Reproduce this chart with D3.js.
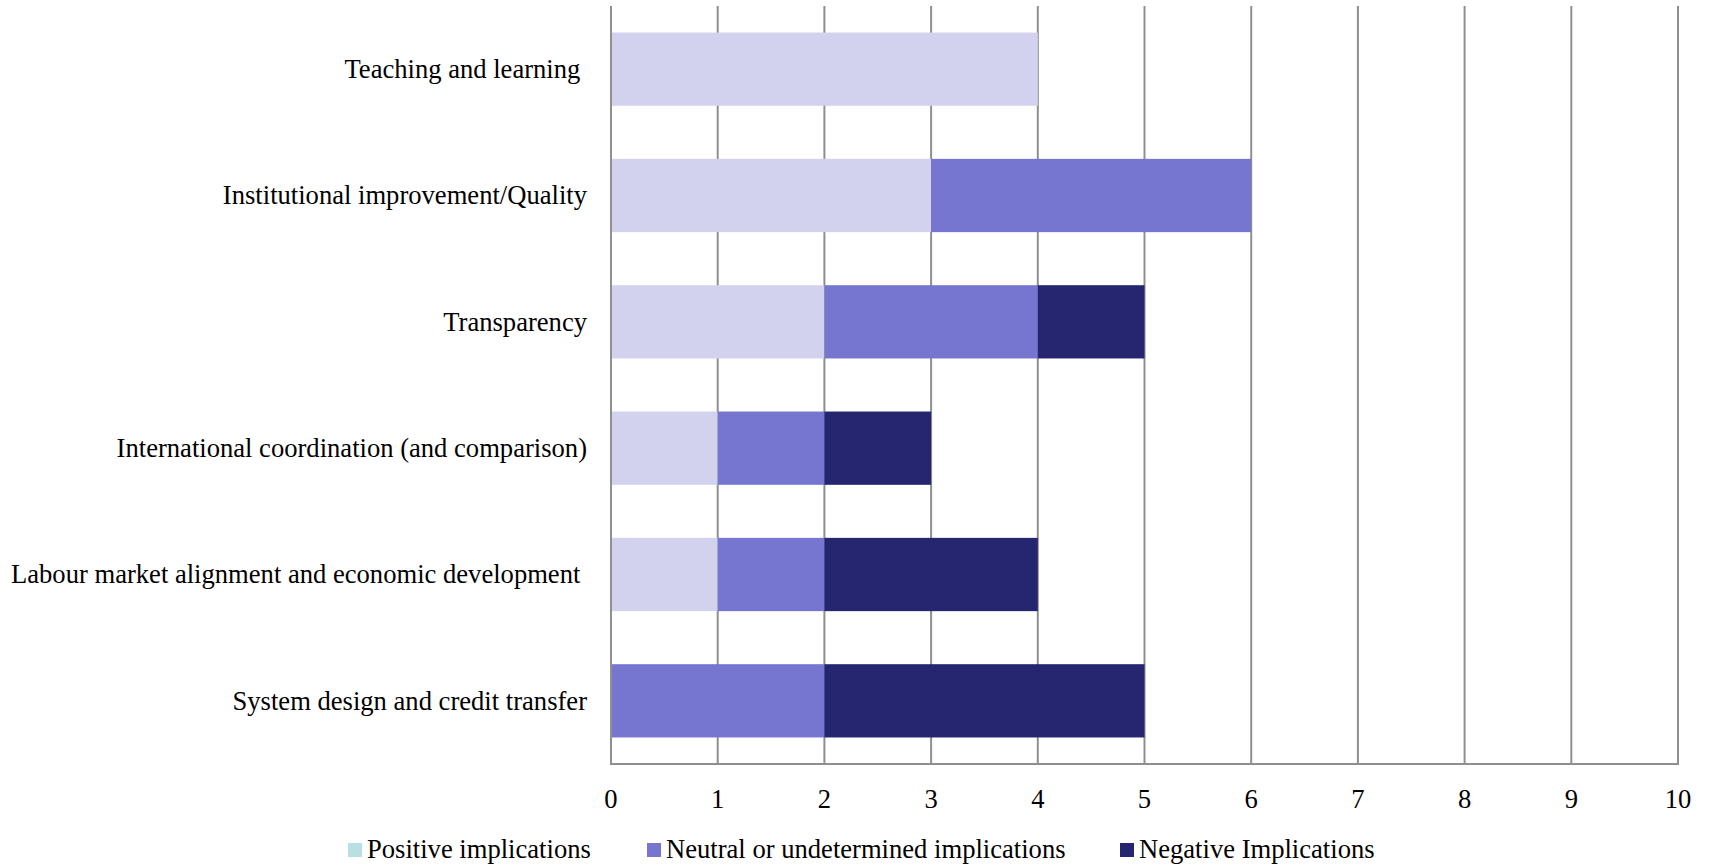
<!DOCTYPE html>
<html>
<head>
<meta charset="utf-8">
<script src="https://cdn.jsdelivr.net/npm/d3@7"></script>
<style>
  html, body { margin: 0; padding: 0; background: #fff; }
  svg text { font-family: "Liberation Serif", "Times New Roman", serif; fill: #000; white-space: pre; }
</style>
</head>
<body>
<svg id="chart" width="1709" height="866"></svg>
<script>
// Categories, top to bottom
const categories = [
  "Teaching and learning ",
  "Institutional improvement/Quality",
  "Transparency",
  "International coordination (and comparison)",
  "Labour market alignment and economic development ",
  "System design and credit transfer"
];
// Series values, one per category
const positive = [4, 3, 2, 1, 1, 0];
const neutral  = [0, 3, 2, 1, 1, 2];
const negative = [0, 0, 1, 1, 2, 3];

const seriesNames = ["Positive implications", "Neutral or undetermined implications", "Negative Implications"];
const barColors    = ["#d2d2ef", "#7675d0", "#262670"];
const legendColors = ["#b8dfe1", "#7675d0", "#262670"];
const xTicks = [0, 1, 2, 3, 4, 5, 6, 7, 8, 9, 10];

const svg = d3.select("#chart");
const plotLeft = 611, plotRight = 1678, plotTop = 6, plotBottom = 764;
const fontSize = "26.6px";

const x = d3.scaleLinear().domain([0, 10]).range([plotLeft, plotRight]);
const y = d3.scaleBand().domain(categories).range([plotTop, plotBottom]).paddingInner(0.42).paddingOuter(0.21);

const rows = categories.map((c, i) => ({ cat: c, s0: positive[i], s1: neutral[i], s2: negative[i] }));
const stack = d3.stack().keys(["s0", "s1", "s2"])(rows);

// Vertical gridlines
svg.append("g").selectAll("line").data(xTicks).join("line")
  .attr("x1", d => x(d)).attr("x2", d => x(d))
  .attr("y1", plotTop).attr("y2", plotBottom)
  .attr("stroke", "#8f8f8f").attr("stroke-width", 2);

// Stacked bars
svg.append("g").selectAll("g").data(stack).join("g")
  .attr("fill", (d, i) => barColors[i])
  .selectAll("rect").data(d => d.filter(p => p[1] > p[0])).join("rect")
  .attr("x", d => x(d[0]))
  .attr("width", d => x(d[1]) - x(d[0]))
  .attr("y", d => y(d.data.cat))
  .attr("height", y.bandwidth());

// Axis lines
svg.append("line").attr("x1", plotLeft).attr("x2", plotLeft).attr("y1", plotTop).attr("y2", plotBottom)
  .attr("stroke", "#8f8f8f").attr("stroke-width", 2);
svg.append("line").attr("x1", plotLeft - 1).attr("x2", plotRight + 1).attr("y1", plotBottom).attr("y2", plotBottom)
  .attr("stroke", "#8f8f8f").attr("stroke-width", 2);

// X tick labels
svg.append("g").selectAll("text").data(xTicks).join("text")
  .attr("x", d => x(d)).attr("y", 808)
  .attr("text-anchor", "middle")
  .style("font-size", fontSize)
  .text(d => d);

// Category labels
svg.append("g").selectAll("text").data(categories).join("text")
  .attr("x", 587).attr("y", d => y(d) + y.bandwidth() / 2)
  .attr("dy", "0.33em")
  .attr("text-anchor", "end")
  .style("font-size", fontSize)
  .text(d => d);

// Legend
const legendX = [348, 647, 1120];
const lg = svg.append("g").selectAll("g").data(seriesNames).join("g")
  .attr("transform", (d, i) => `translate(${legendX[i]},0)`);
lg.append("rect").attr("x", 0).attr("y", 843).attr("width", 14).attr("height", 14)
  .attr("fill", (d, i) => legendColors[i]);
lg.append("text").attr("x", 19).attr("y", 858)
  .style("font-size", fontSize)
  .text(d => d);
</script>
</body>
</html>
